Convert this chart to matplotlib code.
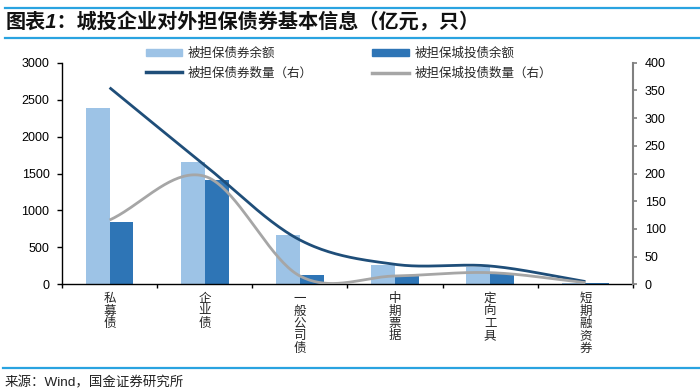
import numpy as np
import matplotlib
matplotlib.use("Agg")
import matplotlib.pyplot as plt
from matplotlib.lines import Line2D
from matplotlib.patches import Patch
from matplotlib.transforms import blended_transform_factory

plt.rcParams['font.family'] = ['Liberation Sans', 'Noto Sans CJK SC']

# ---------------- data ----------------
categories = ["私募债", "企业债", "一般公司债", "中期票据", "定向工具", "短期融资券"]
guaranteed_amount = [2390, 1660, 670, 260, 230, 20]        # 被担保债券余额 (亿元)
guaranteed_lgfv_amount = [840, 1410, 120, 110, 135, 15]    # 被担保城投债余额 (亿元)
guaranteed_count = [355, 215, 80, 36, 33, 5]               # 被担保债券数量 (只, 右)
guaranteed_lgfv_count = [116, 195, 15, 15, 21, 3]          # 被担保城投债数量 (只, 右)
left_ticks = [0, 500, 1000, 1500, 2000, 2500, 3000]
right_ticks = [0, 50, 100, 150, 200, 250, 300, 350, 400]

title = "图表1：城投企业对外担保债券基本信息（亿元，只）"
source = "来源：Wind，国金证券研究所"
legend_labels = ["被担保债券余额", "被担保城投债余额", "被担保债券数量（右）", "被担保城投债数量（右）"]

c_light = "#9DC3E6"
c_dark = "#2E75B6"
c_navy = "#1F4E79"
c_gray = "#A6A6A6"
c_rule = "#29A3E0"


def smooth(xs, ys, n=40):
    """Excel-like smoothed line (cubic Hermite / Catmull-Rom) through the data points."""
    xs = np.asarray(xs, float)
    ys = np.asarray(ys, float)
    k = len(xs)
    m = np.zeros(k)
    for i in range(k):
        if i == 0:
            m[i] = ys[1] - ys[0]
        elif i == k - 1:
            m[i] = ys[-1] - ys[-2]
        else:
            m[i] = (ys[i + 1] - ys[i - 1]) / 2.0
    ox, oy = [], []
    for i in range(k - 1):
        t = np.linspace(0, 1, n, endpoint=(i == k - 2))
        h00 = 2 * t**3 - 3 * t**2 + 1
        h10 = t**3 - 2 * t**2 + t
        h01 = -2 * t**3 + 3 * t**2
        h11 = t**3 - t**2
        oy.append(h00 * ys[i] + h10 * m[i] + h01 * ys[i + 1] + h11 * m[i + 1])
        ox.append(xs[i] + t * (xs[i + 1] - xs[i]))
    return np.concatenate(ox), np.concatenate(oy)


W, H = 700, 390
fig = plt.figure(figsize=(W / 100, H / 100), dpi=100)
ax = fig.add_axes([62 / W, (H - 284.3) / H, (633 - 62) / W, (284.3 - 62.7) / H])
ax2 = ax.twinx()

x = np.arange(len(categories))
bw = 0.25
ax.bar(x - bw / 2, guaranteed_amount, bw, color=c_light, zorder=2)
ax.bar(x + bw / 2, guaranteed_lgfv_amount, bw, color=c_dark, zorder=2)

sx, sy = smooth(x, guaranteed_count)
ax2.plot(sx, sy, color=c_navy, lw=2.0, solid_capstyle='butt')
gx, gy = smooth(x, guaranteed_lgfv_count)
ax2.plot(gx, gy, color=c_gray, lw=2.0, solid_capstyle='butt')

ax.set_xlim(-0.5, len(categories) - 0.5)
ax.set_ylim(0, 3000)
ax2.set_ylim(0, 400)
ax.set_yticks(left_ticks)
ax2.set_yticks(right_ticks)
ax.set_xticks(np.arange(-0.5, len(categories), 1.0))
ax.set_xticklabels([])

for s in ["top"]:
    ax.spines[s].set_visible(False)
    ax2.spines[s].set_visible(False)
ax2.spines["left"].set_visible(False)
ax2.spines["bottom"].set_visible(False)
ax.spines["right"].set_visible(False)
ax.spines["left"].set_color("black")
ax.spines["left"].set_linewidth(1.0)
ax.spines["bottom"].set_color("black")
ax.spines["bottom"].set_linewidth(1.0)
ax2.spines["right"].set_color("#808080")
ax2.spines["right"].set_linewidth(1.5)

ax.tick_params(axis='y', direction='out', length=3.5, width=1.0, pad=5.5,
               labelsize=9, colors='black')
ax.tick_params(axis='x', direction='out', length=3, width=1.0, color='black')
ax2.tick_params(axis='y', direction='out', length=3, width=1.2, pad=5.5,
                labelsize=9, color='#808080', labelcolor='black')

# vertical category labels
tr = blended_transform_factory(ax.transData, fig.transFigure)
for i, c in enumerate(categories):
    ax.text(i, (H - 293) / H, "\n".join(c), transform=tr, ha='center', va='top',
            fontsize=9, color='#262626', linespacing=1.05)

# legend
handles = [Patch(color=c_light), Line2D([], [], color=c_navy, lw=2.5),
           Patch(color=c_dark), Line2D([], [], color=c_gray, lw=2.5)]
labels = [legend_labels[0], legend_labels[2], legend_labels[1], legend_labels[3]]
fig.legend(handles, labels, ncol=2, loc='upper left',
           bbox_to_anchor=(146 / W, (H - 48) / H), frameon=False, fontsize=9,
           handlelength=2.9, handleheight=0.5, handletextpad=0.45,
           columnspacing=4.75, borderpad=0, borderaxespad=0, labelspacing=0.55,
           labelcolor='#262626')

# title and rules
fig.add_artist(Line2D([5 / W, 1], [(H - 7.5) / H] * 2, transform=fig.transFigure,
                      color=c_rule, lw=1.6))
fig.add_artist(Line2D([5 / W, 1], [(H - 37.7) / H] * 2, transform=fig.transFigure,
                      color=c_rule, lw=1.6))
fig.text(6 / W, (H - 22) / H, title, ha='left', va='center', fontsize=14.5,
         fontweight='bold', style='italic', color='#111111')
fig.add_artist(Line2D([3 / W, 1], [(H - 368.3) / H] * 2, transform=fig.transFigure,
                      color=c_rule, lw=1.6))
fig.text(5 / W, (H - 382.5) / H, source, ha='left', va='center', fontsize=9.7,
         color='#222222')

fig.savefig("out.png", dpi=100)
